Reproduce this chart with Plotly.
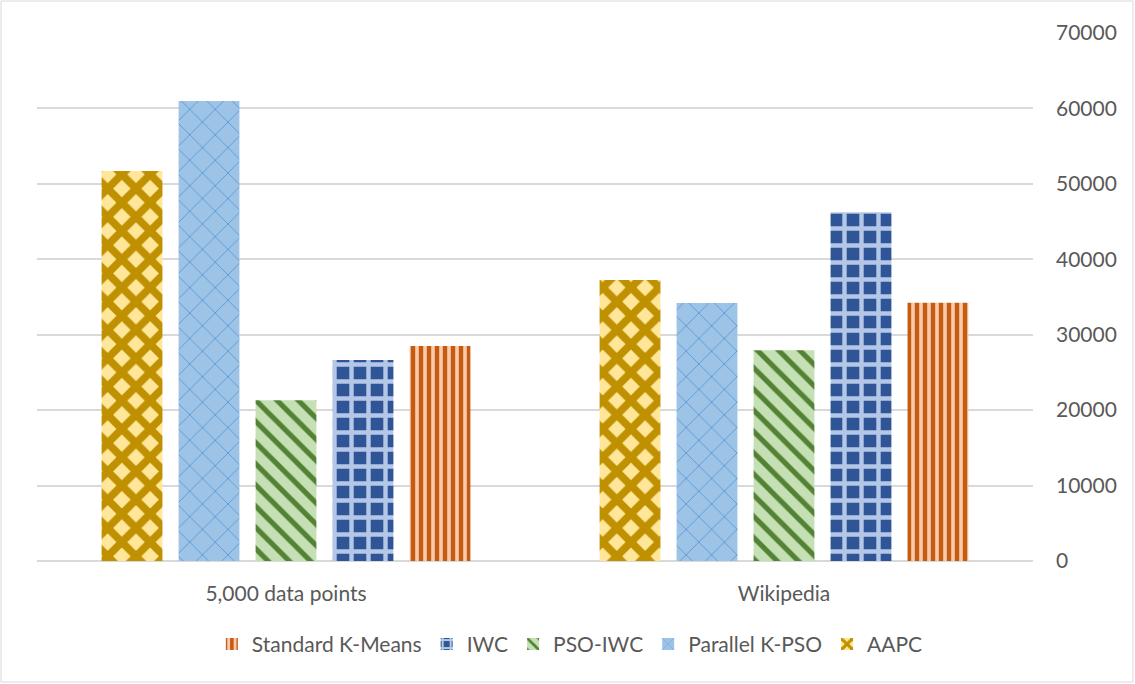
import plotly.graph_objects as go

categories = ["5,000 data points", "Wikipedia"]

# Series in bar order (left to right within each group)
series_names = ["AAPC", "Parallel K-PSO", "PSO-IWC", "IWC", "Standard K-Means"]
aapc = [51700, 37250]
parallel_kpso = [61000, 34200]
pso_iwc = [21300, 27950]
iwc = [26650, 46250]
standard_kmeans = [28500, 34250]

values = [aapc, parallel_kpso, pso_iwc, iwc, standard_kmeans]

# Pattern styling per series: shape, background, foreground, size, solidity
styles = {
    "AAPC": ("x", "#FFE699", "#BF9000", 20, 0.62),
    "Parallel K-PSO": ("x", "#9DC3E6", "#5B9BD5", 18, 0.1),
    "PSO-IWC": ("\\", "#C5E0B4", "#548235", 15, 0.35),
    "IWC": ("+", "#2F5597", "#B4C7E7", 17, 0.45),
    "Standard K-Means": ("|", "#C55A11", "#F8CBAD", 8, 0.45),
}

FONT = "Lato"
TEXT_COLOR = "#595959"
FS = 21

fig = go.Figure()
for name, vals in zip(series_names, values):
    shape, bg, fg, size, solidity = styles[name]
    fig.add_trace(go.Bar(
        name=name,
        x=categories,
        y=vals,
        marker=dict(
            color=bg,
            line=dict(width=0),
            pattern=dict(shape=shape, bgcolor=bg, fgcolor=fg, size=size,
                         solidity=solidity, fillmode="replace"),
        ),
    ))

W, H = 1135, 684
ml, mr, mt, mb = 37, 102, 33, 123
pw, ph = W - ml - mr, H - mt - mb

fig.update_layout(
    width=W, height=H,
    margin=dict(l=ml, r=mr, t=mt, b=mb),
    paper_bgcolor="white",
    plot_bgcolor="white",
    barmode="group",
    bargap=0.227,
    bargroupgap=0.21,
    font=dict(family=FONT, size=FS, color=TEXT_COLOR),
    showlegend=True,
    legend=dict(
        orientation="h",
        traceorder="reversed",
        x=0.535, xanchor="center",
        y=-0.158, yanchor="middle",
        font=dict(family=FONT, size=FS, color=TEXT_COLOR),
        itemwidth=30,
    ),
    xaxis=dict(
        showgrid=False,
        showline=False,
        ticks="",
        tickfont=dict(family=FONT, size=FS, color=TEXT_COLOR),
        ticklabelstandoff=18,
    ),
    yaxis=dict(
        side="right",
        range=[0, 70000],
        dtick=10000,
        showgrid=True,
        gridcolor="#D9D9D9",
        gridwidth=1.5,
        zeroline=True,
        zerolinecolor="#D9D9D9",
        zerolinewidth=1.5,
        showline=False,
        ticks="",
        tickformat="d",
        tickfont=dict(family=FONT, size=FS, color=TEXT_COLOR),
        ticklabelstandoff=22,
    ),
)

# Light outer frame around the chart area
fig.add_shape(
    type="rect", xref="paper", yref="paper",
    x0=-(ml - 1) / pw, x1=1 + (mr - 2) / pw,
    y0=-(mb - 2) / ph, y1=1 + (mt - 1) / ph,
    line=dict(color="#D9D9D9", width=1),
    fillcolor="rgba(0,0,0,0)",
    layer="below",
)

fig.write_html("out.html")
